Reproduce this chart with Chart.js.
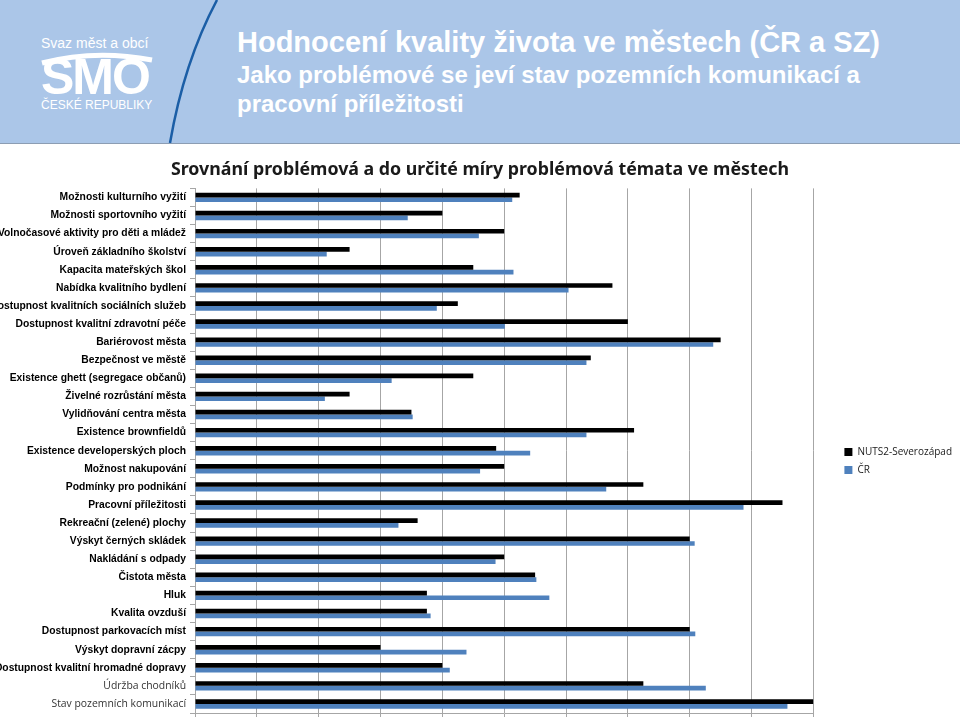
<!DOCTYPE html>
<html lang="cs">
<head>
<meta charset="utf-8">
<title>Hodnocení kvality života ve městech</title>
<script src="https://cdn.jsdelivr.net/npm/chart.js@4.4.1/dist/chart.umd.min.js"></script>
<style>
  html, body { margin: 0; padding: 0; width: 960px; height: 717px; overflow: hidden; background: #ffffff; }
  #header { position: absolute; left: 0; top: 0; width: 960px; height: 143px; background: #abc6e8; border-bottom: 1px solid #8c9db3; }
  #header svg { position: absolute; left: 0; top: 0; }
  .logo-small { position: absolute; color: #ffffff; font-family: "Liberation Sans", Arial, sans-serif; }
  #smo { position: absolute; left: 41px; top: 52px; color: #ffffff; font-family: "Liberation Sans", Arial, sans-serif; font-weight: bold; font-size: 50px; letter-spacing: -2px; line-height: 50px; }
  #title { position: absolute; left: 237px; top: 26px; color: #ffffff; font-family: "Liberation Sans", Arial, sans-serif; font-weight: bold; font-size: 29px; white-space: nowrap; }
  #subtitle { position: absolute; left: 237px; top: 60px; color: #ffffff; font-family: "Liberation Sans", Arial, sans-serif; font-weight: bold; font-size: 24px; line-height: 29px; white-space: nowrap; }
  #wrap { position: absolute; left: -2px; top: 148px; width: 982px; height: 588px; }
</style>
</head>
<body>
<div id="header">
  <svg width="960" height="143">
    <path d="M 217 0 Q 184 62 170 143" fill="none" stroke="#1b5ea6" stroke-width="2.5"/>
    <path d="M 42 63 Q 95 49 152 60" fill="none" stroke="#ffffff" stroke-width="5"/>
  </svg>
  <div class="logo-small" style="left:41px; top:35px; font-size:14px;">Svaz měst a obcí</div>
  <div id="smo">SMO</div>
  <div class="logo-small" style="left:41px; top:98px; font-size:12px;">ČESKÉ REPUBLIKY</div>
  <div id="title">Hodnocení kvality života ve městech (ČR a SZ)</div>
  <div id="subtitle">Jako problémové se jeví stav pozemních komunikací a<br>pracovní příležitosti</div>
</div>
<div id="wrap"><canvas id="chart"></canvas></div>
<script>
// Categories (top to bottom)
const categories = [
  'Možnosti kulturního vyžití',
  'Možnosti sportovního vyžití',
  'Volnočasové aktivity pro děti a mládež',
  'Úroveň základního školství',
  'Kapacita mateřských škol',
  'Nabídka kvalitního bydlení',
  'Dostupnost kvalitních sociálních služeb',
  'Dostupnost kvalitní zdravotní péče',
  'Bariérovost města',
  'Bezpečnost ve městě',
  'Existence ghett (segregace občanů)',
  'Živelné rozrůstání města',
  'Vylidňování centra města',
  'Existence brownfieldů',
  'Existence developerských ploch',
  'Možnost nakupování',
  'Podmínky pro podnikání',
  'Pracovní příležitosti',
  'Rekreační (zelené) plochy',
  'Výskyt černých skládek',
  'Nakládání s odpady',
  'Čistota města',
  'Hluk',
  'Kvalita ovzduší',
  'Dostupnost parkovacích míst',
  'Výskyt dopravní zácpy',
  'Dostupnost kvalitní hromadné dopravy',
  'Údržba chodníků',
  'Stav pozemních komunikací'
];

// Share of answers "problémové" + "do určité míry problémové" (%)
const severozapad = [52.5, 40, 50, 25, 45, 67.5, 42.5, 70, 85, 64, 45, 25, 35, 71, 48.7, 50, 72.5, 95, 36, 80, 50, 55, 37.5, 37.5, 80, 30, 40, 72.5, 100];
const cr = [51.3, 34.4, 45.9, 21.3, 51.5, 60.4, 39.1, 50.1, 83.8, 63.3, 31.8, 21.0, 35.2, 63.3, 54.2, 46.1, 66.5, 88.7, 32.9, 80.8, 48.6, 55.2, 57.3, 38.1, 80.9, 43.9, 41.2, 82.6, 95.8];

const seriesNames = ['NUTS2-Severozápad', 'ČR'];
const xTicks = [0, 10, 20, 30, 40, 50, 60, 70, 80, 90, 100];

const gridColor = '#a6a6a6';

const ctx = document.getElementById('chart').getContext('2d');
new Chart(ctx, {
  type: 'bar',
  data: {
    labels: categories,
    datasets: [
      {
        label: seriesNames[0],
        data: severozapad,
        yAxisID: 'y',
        backgroundColor: '#000000',
        barPercentage: 1,
        categoryPercentage: 0.52
      },
      {
        label: seriesNames[1],
        data: cr,
        yAxisID: 'y',
        backgroundColor: '#4f81bd',
        barPercentage: 1,
        categoryPercentage: 0.52
      }
    ]
  },
  options: {
    indexAxis: 'y',
    responsive: true,
    maintainAspectRatio: false,
    animation: false,
    layout: { padding: { left: 0, right: 18, top: 0, bottom: 0 } },
    plugins: {
      title: {
        display: true,
        text: 'Srovnání problémová a do určité míry problémová témata ve městech',
        color: '#1a1a1a',
        font: { family: "'Noto Sans', 'Open Sans', sans-serif", size: 17.8, weight: 'bold' },
        padding: { top: 11, bottom: 8 }
      },
      legend: {
        position: 'right',
        title: { display: true, text: ' ', padding: 13, font: { size: 10 } },
        labels: {
          boxWidth: 8,
          boxHeight: 8,
          padding: 8,
          color: '#1a1a1a',
          font: { family: "'Open Sans', sans-serif", size: 10 }
        }
      },
      tooltip: { enabled: false }
    },
    scales: {
      x: {
        min: 0,
        max: 100,
        afterBuildTicks: scale => { scale.ticks = xTicks.map(v => ({ value: v })); },
        grid: { color: gridColor, tickLength: 5 },
        border: { color: gridColor },
        ticks: {
          callback: v => v + ' %',
          color: '#333333',
          font: { family: "'Open Sans', sans-serif", size: 10 }
        }
      },
      y: {
        afterFit: scale => { scale.width = 197; },
        grid: { drawOnChartArea: false, tickLength: 5, color: gridColor },
        border: { color: gridColor },
        ticks: {
          padding: 4,
          autoSkip: false,
          color: c => c.index >= 27 ? '#333333' : '#000000',
          font: c => c.index >= 27
            ? { family: "'Open Sans', sans-serif", size: 10.4, weight: 'normal' }
            : { family: "'Liberation Sans Narrow', 'Liberation Sans', Arial, sans-serif", size: 10.3, weight: 'bold' }
        }
      },
      // empty axis that only keeps a gap between the plot and the legend
      gap: {
        type: 'linear',
        axis: 'y',
        position: 'right',
        display: true,
        grid: { display: false },
        border: { display: false },
        ticks: { display: false },
        afterFit: scale => { scale.width = 23; }
      }
    }
  }
});
</script>
</body>
</html>
